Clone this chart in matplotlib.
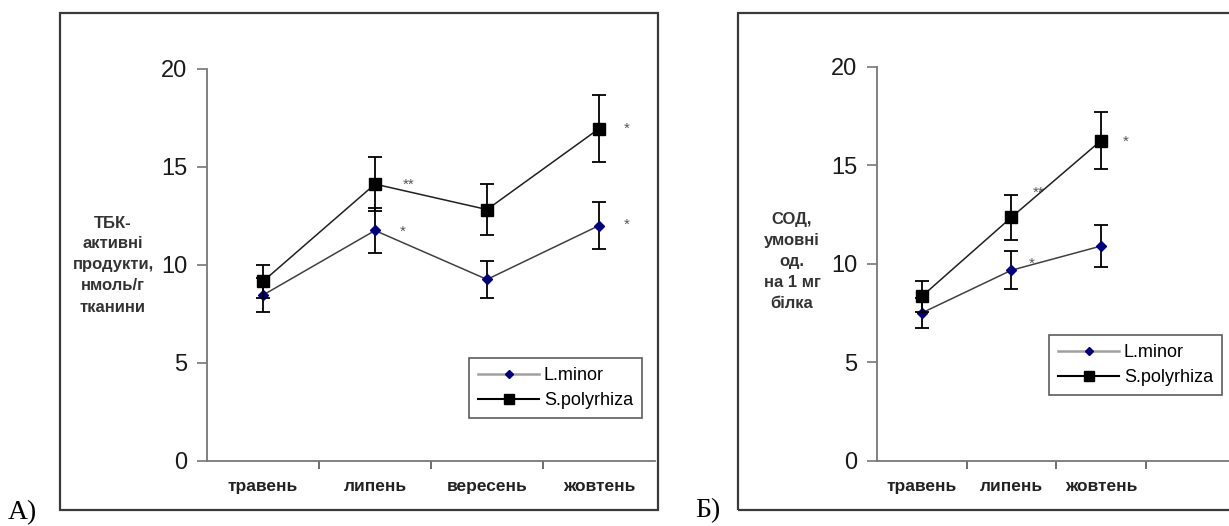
"""Два графiки: ТБК-активнi продукти (А) та СОД (Б) для L.minor / S.polyrhiza."""
import numpy as np
import matplotlib
matplotlib.use("Agg")
import matplotlib.pyplot as plt
from matplotlib.lines import Line2D
from matplotlib.patches import Rectangle

plt.rcParams["font.family"] = ["Liberation Sans", "DejaVu Sans"]

# ---- данi, панель А (ТБК) ----
months_a = ["травень", "липень", "вересень", "жовтень"]
lminor_a = [8.45, 11.75, 9.25, 12.0]
lminor_a_err = [0.85, 1.15, 0.93, 1.2]
spoly_a = [9.15, 14.12, 12.82, 16.95]
spoly_a_err = [0.86, 1.36, 1.32, 1.7]
stars_a = [("**", 1.80, 14.1), ("*", 1.75, 11.7), ("*", 3.75, 16.95), ("*", 3.75, 12.05)]

# ---- данi, панель Б (СОД) ----
months_b = ["травень", "липень", "жовтень"]
lminor_b = [7.5, 9.67, 10.9]
lminor_b_err = [0.76, 0.97, 1.07]
spoly_b = [8.34, 12.36, 16.26]
spoly_b_err = [0.8, 1.13, 1.45]
stars_b = [("**", 1.80, 13.6), ("*", 1.73, 10.0), ("*", 2.78, 16.2)]

yticks = [0, 5, 10, 15, 20]

W, H = 1229, 526
fig = plt.figure(figsize=(W / 100, H / 100), dpi=100)


def fx(px):
    return px / W


def fy(py):
    return 1 - py / H


# рамки навколо панелей
for x0, x1 in [(60, 658), (738, 1240)]:
    fig.patches.append(Rectangle((fx(x0), fy(510)), fx(x1 - x0), (510 - 13) / H,
                                 transform=fig.transFigure, fill=False,
                                 edgecolor="#3a3a3a", linewidth=1.6))


def panel(ax, months, lm, lm_err, sp, sp_err, stars, n_slots):
    x = np.arange(len(months)) + 0.5
    ax.errorbar(x, lm, yerr=lm_err, color="#404040", lw=1.1, marker="D", ms=5.5,
                mfc="#000080", mec="#000080", ecolor="black", elinewidth=1.3,
                capsize=5, capthick=1.3, zorder=3)
    ax.errorbar(x, sp, yerr=sp_err, color="#202020", lw=1.1, marker="s", ms=9,
                mfc="black", mec="black", ecolor="black", elinewidth=1.3,
                capsize=5, capthick=1.3, zorder=4)
    for s, sx, sy in stars:
        ax.text(sx, sy, s, fontsize=11, color="#555555", ha="center", va="center")

    ax.set_xlim(0, n_slots)
    ax.set_ylim(0, 20)
    ax.set_yticks(yticks)
    ax.set_yticklabels([str(v) for v in yticks], fontsize=17,
                       family=["Liberation Sans Narrow", "Liberation Sans"],
                       color="#1a1a1a")
    ax.set_xticks(x)
    ax.set_xticklabels(months, fontsize=12.5, fontweight="bold", color="#222222")
    ax.set_xticks(np.arange(1, n_slots), minor=True)
    ax.tick_params(axis="x", which="major", length=0, pad=13)
    ax.tick_params(axis="x", which="minor", length=6, width=1.2, color="#555555",
                   direction="out")
    ax.tick_params(axis="y", length=7, width=1.2, color="#777777", pad=7)
    for side in ["top", "right"]:
        ax.spines[side].set_visible(False)
    for side in ["left", "bottom"]:
        ax.spines[side].set_color("#777777")
        ax.spines[side].set_linewidth(1.3)
    ax.patch.set_visible(False)


ax_a = fig.add_axes([fx(207), fy(460.5), fx(655 - 207), (460.5 - 69) / H])
panel(ax_a, months_a, lminor_a, lminor_a_err, spoly_a, spoly_a_err, stars_a, 4)

ax_b = fig.add_axes([fx(877), fy(460.5), fx(4 * 89.6), (460.5 - 67) / H])
panel(ax_b, months_b, lminor_b, lminor_b_err, spoly_b, spoly_b_err, stars_b, 4)

# легенди
handles = [
    Line2D([], [], color="#a0a0a0", lw=1.8, marker="D", ms=4.5, mfc="#000080", mec="#000080"),
    Line2D([], [], color="black", lw=1.5, marker="s", ms=6.5, mfc="black", mec="black"),
]
labels = ["L.minor", "S.polyrhiza"]
for box in [(469, 358), (1049, 335)]:
    x0, y0 = box
    leg = fig.legend(handles, labels, loc="upper left",
                     bbox_to_anchor=(fx(x0), fy(y0)), fontsize=13,
                     frameon=True, fancybox=False, edgecolor="#333333",
                     handlelength=3.4, handletextpad=0.25, borderpad=0.5,
                     labelspacing=0.45, borderaxespad=0)
    leg.get_frame().set_linewidth(1.2)

# пiдписи осей Y
ylab_style = dict(ha="center", va="center", fontsize=12, fontweight="bold",
                  color="#333333", linespacing=1.5)
fig.text(fx(113), fy(265), "ТБК-\nактивні\nпродукти,\nнмоль/г\nтканини", **ylab_style)
fig.text(fx(792), fy(261), "СОД,\nумовні\nод.\nна 1 мг\nбілка", **ylab_style)

# позначки панелей
fig.text(fx(8), fy(525), "А)", fontsize=20, family="Liberation Serif", va="bottom")
fig.text(fx(695), fy(523), "Б)", fontsize=20, family="Liberation Serif", va="bottom")

fig.savefig("out.png", dpi=100)
